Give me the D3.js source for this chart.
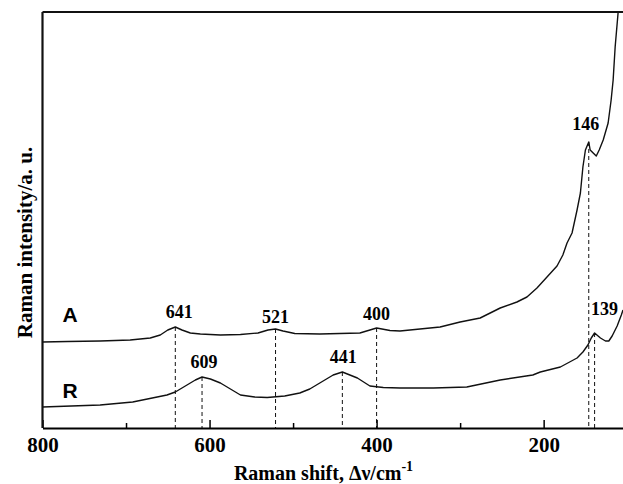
<!doctype html>
<meta charset="utf-8">
<style>
body { margin: 0; background: #fff; }
.line { fill: none; stroke: #111; stroke-width: 1.4px; stroke-linejoin: round; }
.peak { stroke: #111; stroke-width: 1px; stroke-dasharray: 4,3; }
</style>
<html lang="en">
<body>
<script src="https://d3js.org/d3.v7.min.js"></script>
<script>
// spectrum A (wavenumber cm-1, intensity a.u.)
var shiftA = [800, 770, 731, 695, 671, 659, 650, 641, 633, 623, 611, 587, 563, 542, 530, 521, 512, 498, 468, 444, 420, 408, 400, 384, 372, 348, 324, 300, 276, 252, 232, 220, 208, 196, 184, 177, 172, 166, 160, 156, 153, 150, 146, 144.3, 140.7, 137, 133.5, 128.7, 122.8, 119.2, 116.8, 114.4, 110.8, 109.6];
var intA   = [86, 86.5, 87, 88, 90, 93, 98, 101, 98, 95, 94, 93, 93.5, 95, 98, 99, 97, 94.5, 94, 94.5, 95, 98, 100, 97.5, 97, 99, 101, 106, 110, 120, 126, 131, 140, 151, 162, 173, 185, 195, 218, 235, 261, 278, 286, 278, 275, 272, 278, 288, 305, 328, 348, 381, 416, 425];

// spectrum R
var shiftR = [800, 731, 692, 651, 641, 627, 617, 609, 599, 587, 575, 563, 546, 531, 510, 492, 480, 468, 452, 441, 432, 423, 408, 392, 372, 332, 292, 252, 213, 204, 180, 160, 153, 147, 143, 139, 132, 126, 122, 118, 112, 107, 105];
var intR   = [21, 23, 26, 33, 36, 43, 48, 51, 49, 45, 39, 33, 31, 30.5, 32, 35, 39, 45, 53, 56, 53, 50, 42, 40.5, 40, 40, 41, 48, 53, 56, 61, 70, 76, 83, 90, 95, 90, 87, 87, 92, 102, 113, 118];

// marked peaks
var peakShift = [641, 521, 400, 146, 609, 441, 139];
var peakInt   = [101, 99, 100, 286, 51, 56, 95];
var peakText  = ["641", "521", "400", "146", "609", "441", "139"];
// label offsets from the peak top
var labelDx = [4, 0, 0, -3, 2, 1, 10];
var labelDy = [-9, -6, -8, -12, -9, -9, -18];

var majorTicks = [800, 600, 400, 200];
var minorTicks = [700, 500, 300];

var serif = "'Liberation Serif', 'Times New Roman', Times, serif";
var sans = "'Liberation Sans', Arial, sans-serif";

var margin = {top: 12, right: 0, bottom: 56, left: 42.5},
    width = 623 - margin.left - margin.right,
    height = 484 - margin.top - margin.bottom;

var x = d3.scaleLinear().domain([800, 105]).range([0, width]);
var y = d3.scaleLinear().domain([0, 416]).range([height, 0]);

var svg = d3.select("body").append("svg")
    .attr("width", 623)
    .attr("height", 484)
  .append("g")
    .attr("transform", "translate(" + margin.left + "," + margin.top + ")");

svg.append("clipPath").attr("id", "clip")
  .append("rect").attr("width", width).attr("height", height);

var valueline = d3.line()
    .x(function(d) { return x(d[0]); })
    .y(function(d) { return y(d[1]); });

var dataA = shiftA.map(function(v, i) { return [v, intA[i]]; });
var dataR = shiftR.map(function(v, i) { return [v, intR[i]]; });

// dashed peak markers
svg.selectAll(".peak").data(peakShift).enter().append("line")
    .attr("class", "peak")
    .attr("x1", function(d) { return x(d); })
    .attr("x2", function(d) { return x(d); })
    .attr("y1", function(d, i) { return y(peakInt[i]); })
    .attr("y2", height);

svg.append("path").data([dataA]).attr("class", "line")
    .attr("clip-path", "url(#clip)").attr("d", valueline);
svg.append("path").data([dataR]).attr("class", "line")
    .attr("clip-path", "url(#clip)").attr("d", valueline);

// peak labels
svg.selectAll(".plbl").data(peakShift).enter().append("text")
    .attr("text-anchor", "middle")
    .style("font-family", serif).style("font-weight", "bold")
    .style("font-size", "18px")
    .attr("x", function(d, i) { return x(d) + labelDx[i]; })
    .attr("y", function(d, i) { return y(peakInt[i]) + labelDy[i]; })
    .text(function(d, i) { return peakText[i]; });

// series names
svg.append("text").attr("x", x(776)).attr("y", y(106))
    .style("font-family", sans)
    .style("font-weight", "bold").style("font-size", "21px").text("A");
svg.append("text").attr("x", x(776)).attr("y", y(30))
    .style("font-family", sans)
    .style("font-weight", "bold").style("font-size", "21px").text("R");

// Add the X Axis
var xAxis = svg.append("g")
    .attr("transform", "translate(0," + height + ")")
    .call(d3.axisBottom(x).tickValues(majorTicks).tickSizeInner(-8).tickSizeOuter(0).tickPadding(9));
xAxis.attr("font-family", serif);
xAxis.select(".domain").attr("stroke-width", 2.2);
xAxis.selectAll(".tick line").attr("stroke-width", 1.5);
xAxis.selectAll(".tick text")
    .style("font-family", serif).style("font-weight", "bold").style("font-size", "21px");

svg.append("g")
    .attr("transform", "translate(0," + height + ")")
    .call(d3.axisBottom(x).tickValues(minorTicks).tickSize(-5).tickFormat(""))
  .call(function(g) { g.select(".domain").remove(); })
  .selectAll(".tick line").attr("stroke-width", 1.5);

// left axis and top frame
svg.append("line").attr("x1", 0).attr("x2", 0).attr("y1", 0).attr("y2", height)
    .attr("stroke", "#111").attr("stroke-width", 2.2);
svg.append("line").attr("x1", 0).attr("x2", width).attr("y1", 0).attr("y2", 0)
    .attr("stroke", "#111").attr("stroke-width", 2.2);

// axis titles
var xt = svg.append("text")
    .attr("x", 281).attr("y", height + 52)
    .attr("text-anchor", "middle")
    .style("font-family", serif).style("font-weight", "bold").style("font-size", "20px");
xt.append("tspan").text("Raman shift, \u0394\u03bd/cm");
xt.append("tspan").attr("dy", -9).style("font-size", "14px").text("-1");

svg.append("text")
    .attr("transform", "translate(-18," + 230.5 + ") rotate(-90)")
    .attr("text-anchor", "middle").attr("dy", "0.35em")
    .style("font-family", serif).style("font-weight", "bold").style("font-size", "21px")
    .text("Raman intensity/a. u.");
</script>
</body>
</html>
